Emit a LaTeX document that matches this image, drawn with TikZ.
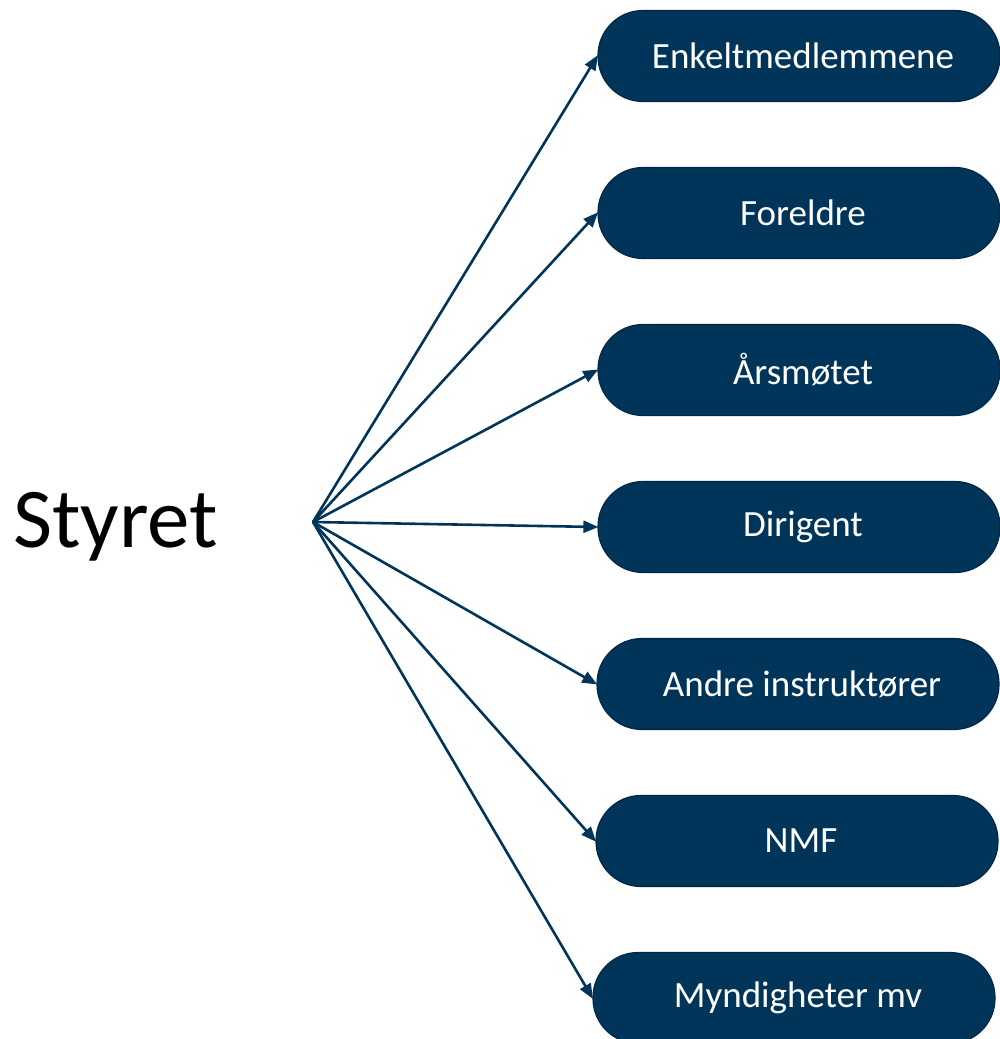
\documentclass[tikz,border=0pt]{standalone}
\usepackage{fontspec}
\setmainfont{Carlito}
\usetikzlibrary{arrows.meta}
\definecolor{navy}{RGB}{0,52,89}
\definecolor{navyedge}{RGB}{0,40,70}
\begin{document}
\begin{tikzpicture}[x=1pt,y=-1pt,
  pill/.style={draw=navyedge,line width=1.2pt,fill=navy,text=white,
    rounded corners=45pt,minimum width=402pt,minimum height=91pt,
    inner sep=0pt,font=\fontsize{37}{44}\selectfont},
  conn/.style={draw=navy,line width=2.6pt,
    -{Triangle[length=15pt,width=12pt]},shorten >=-1pt}]
\useasboundingbox (0,0) rectangle (999,1039);
\node[font=\fontsize{85}{100}\selectfont,anchor=west,inner sep=0pt] (s) at (13,527) {Styret};
\coordinate (h) at (313,522);
\node[pill] (p1) at (799,56)  {\hspace*{8pt}Enkeltmedlemmene};
\node[pill] (p2) at (799,213) {\hspace*{8pt}Foreldre};
\node[pill] (p3) at (799,370) {\hspace*{8pt}Årsmøtet};
\node[pill] (p4) at (799,527) {\hspace*{8pt}Dirigent};
\node[pill] (p5) at (798,684) {\hspace*{8pt}Andre instruktører};
\node[pill] (p6) at (797,841) {\hspace*{8pt}NMF};
\node[pill] (p7) at (794,998) {\hspace*{8pt}Myndigheter mv};
\foreach \i in {1,...,7}{\draw[conn] (h) -- (p\i.west);}
\end{tikzpicture}
\end{document}
